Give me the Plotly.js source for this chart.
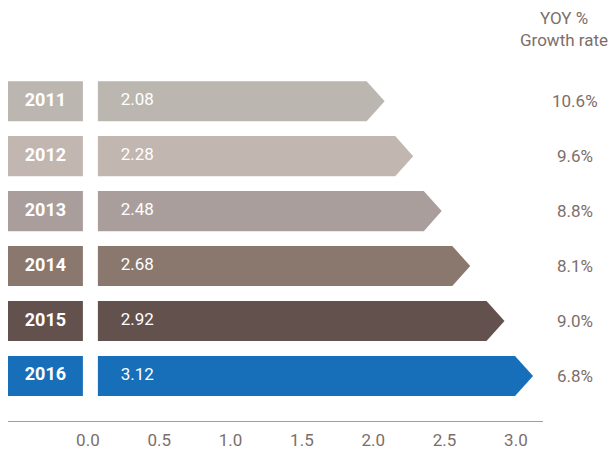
<!DOCTYPE html>
<html>
<head>
<meta charset="utf-8">
<script src="https://cdn.plot.ly/plotly-3.0.1.min.js"></script>
<style>html,body{margin:0;padding:0;background:#fff;}#chart{width:613px;height:457px;}</style>
</head>
<body>
<div id="chart"></div>
<script>
const years = ["2011", "2012", "2013", "2014", "2015", "2016"];
const values = [2.08, 2.28, 2.48, 2.68, 2.92, 3.12];
const growth = ["10.6%", "9.6%", "8.8%", "8.1%", "9.0%", "6.8%"];
const colors = ["#bcb6b1", "#c2b6b0", "#aa9e9c", "#8a786e", "#63514e", "#176fb9"];
const tickVals = [0, 0.5, 1.0, 1.5, 2.0, 2.5, 3.0];

const FONT = "Roboto, 'Liberation Sans', sans-serif";
const H = 0.365;      // half bar height (y units)
const TIP = 0.126;    // arrow tip length (x units)
const X0 = 0.07;      // bar start
const BOX0 = -0.56, BOX1 = -0.035;

const traces = [];
years.forEach((yr, i) => {
  const v = values[i];
  traces.push({
    type: 'scatter', mode: 'lines', fill: 'toself',
    x: [X0, v - TIP, v, v - TIP, X0, X0],
    y: [i - H, i - H, i, i + H, i + H, i - H],
    line: {width: 0, color: colors[i]}, fillcolor: colors[i],
    hoverinfo: 'skip', showlegend: false
  });
  traces.push({
    type: 'scatter', mode: 'lines', fill: 'toself',
    x: [BOX0, BOX1, BOX1, BOX0, BOX0],
    y: [i - H, i - H, i + H, i + H, i - H],
    line: {width: 0, color: colors[i]}, fillcolor: colors[i],
    hoverinfo: 'skip', showlegend: false
  });
});
traces.push({
  type: 'scatter', mode: 'text',
  x: values.map(() => 0.23), y: years.map((_, i) => i),
  text: values.map(v => v.toFixed(2)), textposition: 'middle right',
  textfont: {family: FONT, size: 17, color: '#ffffff'},
  hoverinfo: 'skip', showlegend: false
});
traces.push({
  type: 'scatter', mode: 'text',
  x: years.map(() => (BOX0 + BOX1) / 2), y: years.map((_, i) => i),
  text: years.map(y => '<b>' + y + '</b>'), textposition: 'middle center',
  textfont: {family: FONT, size: 18, color: '#ffffff'},
  hoverinfo: 'skip', showlegend: false
});

const annotations = growth.map((g, i) => ({
  xref: 'paper', yref: 'y', x: 1.0598, y: i, text: g, showarrow: false,
  xanchor: 'center', yanchor: 'middle',
  font: {family: FONT, size: 17, color: '#7d6e6a'}
}));
annotations.push({
  xref: 'paper', yref: 'paper', x: 1.04, y: 1.085, xanchor: 'center', yanchor: 'middle',
  text: 'YOY %<br>Growth rate', showarrow: false, align: 'center',
  font: {family: FONT, size: 17, color: '#7d6e6a'}
});

const layout = {
  width: 613, height: 457,
  margin: {l: 8, r: 70, t: 60, b: 36},
  paper_bgcolor: '#ffffff', plot_bgcolor: '#ffffff',
  xaxis: {
    range: [-0.56, 3.19], tickvals: tickVals, tickformat: '.1f',
    showgrid: false, zeroline: false, showline: true, linecolor: '#a99b97', linewidth: 1,
    ticks: '', ticklen: 0, ticklabelstandoff: 4,
    tickfont: {family: FONT, size: 17, color: '#7d6e6a'},
    fixedrange: true
  },
  yaxis: {
    range: [5.82, -0.75], showgrid: false, zeroline: false, showline: false,
    showticklabels: false, ticks: '', fixedrange: true
  },
  annotations: annotations,
  showlegend: false
};

Plotly.newPlot('chart', traces, layout, {displayModeBar: false, staticPlot: true});
</script>
</body>
</html>
